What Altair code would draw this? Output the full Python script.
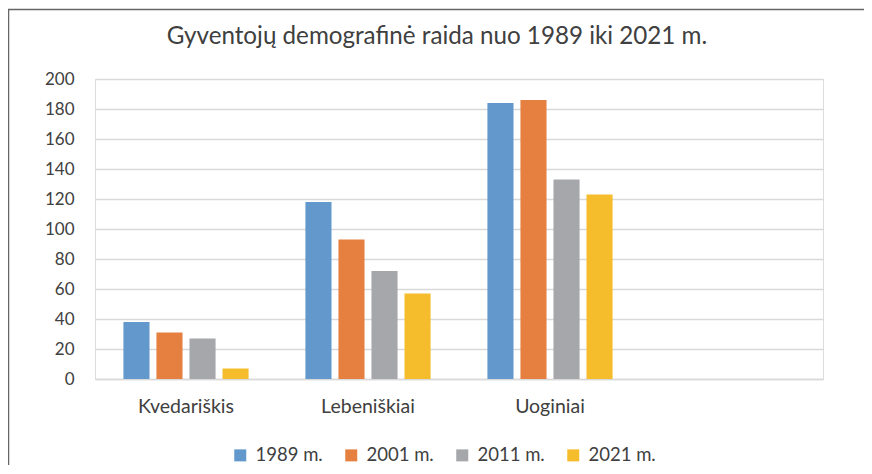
import altair as alt
import pandas as pd

categories = ["Kvedariškis", "Lebeniškiai", "Uoginiai"]
x_domain = categories + [" "]
years = ["1989 m.", "2001 m.", "2011 m.", "2021 m."]
v1989 = [38, 118, 184]
v2001 = [31, 93, 186]
v2011 = [27, 72, 133]
v2021 = [7, 57, 123]
colors = ["#6298cb", "#e58041", "#a6a7aa", "#f5bd2c"]
y_ticks = list(range(0, 201, 20))
title_text = "Gyventojų demografinė raida nuo 1989 iki 2021 m."

rows = []
for yr, vals in zip(years, [v1989, v2001, v2011, v2021]):
    for c, v in zip(categories, vals):
        rows.append({"cat": c, "year": yr, "value": v})
df = pd.DataFrame(rows)

FONT = "Lato"
TXT = "#404040"

bars = alt.Chart(df).mark_bar().encode(
    x=alt.X("cat:N", sort=x_domain,
            scale=alt.Scale(domain=x_domain, paddingInner=0, paddingOuter=0),
            axis=alt.Axis(title=None, labelAngle=0, ticks=False, domain=True,
                          domainColor="#d9d9d9", domainWidth=1.5, grid=False,
                          labelPadding=18, labelFontSize=19.5, labelFont=FONT,
                          labelColor=TXT)),
    xOffset=alt.XOffset("year:N", sort=years,
                        scale=alt.Scale(paddingInner=0.21, paddingOuter=0.86)),
    y=alt.Y("value:Q", scale=alt.Scale(domain=[0, 200]),
            axis=alt.Axis(title=None, values=y_ticks, domain=False, ticks=False,
                          grid=True, gridColor="#d9d9d9", gridWidth=1.5,
                          labelPadding=21, labelFontSize=17, labelFont=FONT,
                          labelColor=TXT)),
    color=alt.Color("year:N", sort=years,
                    scale=alt.Scale(domain=years, range=colors),
                    legend=alt.Legend(title=None, orient="none", legendX=136,
                                      legendY=367, direction="horizontal",
                                      symbolType="square", symbolSize=144,
                                      symbolStrokeWidth=0, labelFontSize=18.5,
                                      labelFont=FONT, labelColor=TXT,
                                      columnPadding=19, labelOffset=6)),
)

one = pd.DataFrame({"k": [0]})
frame_top = alt.Chart(one).mark_rule(color="#666666", strokeWidth=1.5).encode(
    x=alt.value(-87), x2=alt.value(769), y=alt.value(-69.5))
frame_left = alt.Chart(one).mark_rule(color="#666666", strokeWidth=1.5).encode(
    x=alt.value(-86.5), y=alt.value(-70), y2=alt.value(390))
title = alt.Chart(one).mark_text(
    text=title_text, fontSize=24.2, font=FONT, color=TXT, align="center",
    baseline="middle").encode(x=alt.value(342), y=alt.value(-42))

chart = alt.layer(frame_top, frame_left, title, bars).properties(
    width=728, height=300,
    autosize=alt.AutoSizeParams(type="none"),
    padding={"left": 87, "top": 71, "right": 41, "bottom": 86},
).configure_view(stroke=None).configure(background="white")

chart.save("out.html", embed_options={"renderer": "svg", "actions": False})
